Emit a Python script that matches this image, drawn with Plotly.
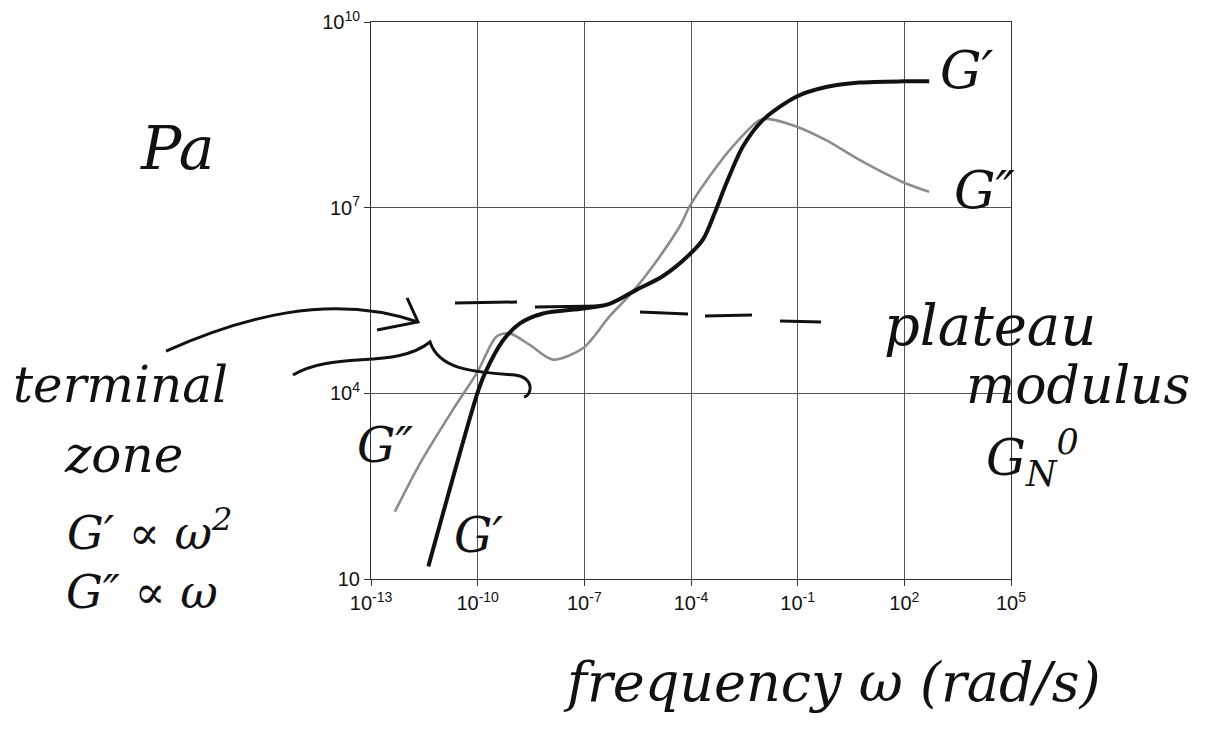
import plotly.graph_objects as go

# ---- data ----
gp_freq = [4.1e-12, 9.8e-11, 1.6e-10, 5.2e-10, 1.55e-9, 6.9e-9, 9.3e-8, 5.1e-7, 2.9e-6,
           1.6e-5, 9.1e-5, 2.2e-4, 4.6e-4, 9.8e-4, 2.9e-3, 1.05e-2, 9.1e-2, 0.63, 5.5, 89, 500]
gp_mod = [16, 1.0e4, 2.1e4, 7.2e4, 1.35e5, 1.95e5, 2.35e5, 2.8e5, 4.7e5,
          7.8e5, 1.75e6, 3.1e6, 8.1e6, 2.45e7, 9.8e7, 2.6e8, 6.2e8, 8.9e8, 1.05e9, 1.1e9, 1.1e9]

gpp_freq = [4.7e-13, 2.4e-12, 2.0e-11, 9.8e-11, 3.4e-10, 7.9e-10, 3.0e-9, 1.3e-8, 9.3e-8,
            5.1e-7, 2.3e-6, 1.3e-5, 5.4e-5, 9.1e-5, 3.3e-4, 1.5e-3, 8.5e-3, 1.6e-2, 9.1e-2,
            0.63, 5.5, 89, 500]
gpp_mod = [123, 740, 5.4e3, 2.2e4, 8.3e4, 9.3e4, 6.0e4, 3.5e4, 5.4e4,
           1.75e5, 4.4e5, 1.6e6, 5.6e6, 1.05e7, 3.2e7, 9.8e7, 2.6e8, 2.7e8, 2.05e8,
           1.23e8, 5.9e7, 2.6e7, 1.8e7]

x_tickvals = [1e-13, 1e-10, 1e-7, 1e-4, 1e-1, 1e2, 1e5]
x_ticktext = ["10<sup>-13</sup>", "10<sup>-10</sup>", "10<sup>-7</sup>", "10<sup>-4</sup>",
              "10<sup>-1</sup>", "10<sup>2</sup>", "10<sup>5</sup>"]
y_tickvals = [1e1, 1e4, 1e7, 1e10]
y_ticktext = ["10", "10<sup>4</sup>", "10<sup>7</sup>", "10<sup>10</sup>"]

# ---- layout geometry (screen pixels; page body adds an 8px margin) ----
OFF = 8
W, H = 1213 - 2 * OFF, 733 - 2 * OFF
L, R, T, B = 371, 1011, 22, 579


def px(x, y):
    return (x - L) / (R - L), (B - y) / (B - T)


def path(cmds):
    out = []
    for c in cmds:
        if isinstance(c, str):
            out.append(c)
        else:
            a, b = px(*c)
            out.append(f"{a:.4f},{b:.4f}")
    return " ".join(out)


fig = go.Figure()
fig.add_trace(go.Scatter(x=gpp_freq, y=gpp_mod, mode="lines",
                         line=dict(color="#8c8c8c", width=2.6, shape="spline", smoothing=0.8),
                         showlegend=False, hoverinfo="skip"))
fig.add_trace(go.Scatter(x=gp_freq, y=gp_mod, mode="lines",
                         line=dict(color="#111111", width=4, shape="spline", smoothing=0.8),
                         showlegend=False, hoverinfo="skip"))

shapes = []
ink = dict(color="#111111", width=3)
# hand-drawn plateau dashes
for (x0, y0, x1, y1) in [(455, 303, 517, 302), (535, 307, 600, 306), (640, 312, 688, 314),
                         (705, 316, 752, 315), (780, 321, 821, 322)]:
    a0, b0 = px(x0, y0)
    a1, b1 = px(x1, y1)
    shapes.append(dict(type="line", xref="paper", yref="paper", x0=a0, y0=b0, x1=a1, y1=b1,
                       line=ink))
# arrow
shapes.append(dict(type="path", xref="paper", yref="paper",
                   path=path(["M", (166, 351), "C", (240, 318), (330, 292), (418, 322)]),
                   line=ink))
shapes.append(dict(type="path", xref="paper", yref="paper",
                   path=path(["M", (407, 298), "L", (418, 322), "L", (377, 330)]),
                   line=ink))
# brace
shapes.append(dict(type="path", xref="paper", yref="paper",
                   path=path(["M", (293, 375), "C", (335, 350), (395, 370), (430, 342),
                              "C", (440, 372), (480, 372), (515, 375),
                              "C", (535, 378), (532, 395), (524, 397)]),
                   line=ink))

hand = "DejaVu Serif"


def note(text, x, y, size):
    a, b = px(x, y)
    return dict(text=text, xref="paper", yref="paper", x=a, y=b,
                xanchor="center", yanchor="middle", showarrow=False,
                font=dict(family=hand, size=size, color="#111111", style="italic"))


annotations = [
    note("Pa", 177, 148, 60),
    note("G′", 967, 70, 52),
    note("G″", 985, 190, 52),
    note("plateau", 990, 326, 56),
    note("modulus", 1078, 385, 52),
    note("G<sub>N</sub><sup>0</sup>", 1032, 458, 50),
    note("terminal", 120, 385, 50),
    note("zone", 123, 455, 50),
    note("G′ ∝ ω<sup>2</sup>", 150, 530, 46),
    note("G″ ∝ ω", 142, 592, 46),
    note("G″", 385, 445, 48),
    note("G′", 478, 535, 48),
    note("frequency ω (rad/s)", 832, 682, 54),
]

axis_font = dict(family="Liberation Sans", size=20, color="#111111")
fig.update_layout(
    width=W, height=H,
    margin=dict(l=L - OFF, r=W - (R - OFF), t=T - OFF, b=H - (B - OFF), pad=0,
                autoexpand=False),
    paper_bgcolor="white", plot_bgcolor="white",
    shapes=shapes, annotations=annotations,
    xaxis=dict(type="log", range=[-13, 5], tickvals=x_tickvals, ticktext=x_ticktext,
               showgrid=True, gridcolor="#555555", gridwidth=1, automargin=False,
               showline=True, linecolor="#333333", linewidth=1, mirror=True,
               ticks="outside", ticklen=6, tickcolor="#333333", tickfont=axis_font,
               ticklabeloverflow="allow", zeroline=False),
    yaxis=dict(type="log", range=[1, 10], tickvals=y_tickvals, ticktext=y_ticktext,
               showgrid=True, gridcolor="#555555", gridwidth=1, automargin=False,
               showline=True, linecolor="#333333", linewidth=1, mirror=True,
               ticks="outside", ticklen=6, tickcolor="#333333", tickfont=axis_font,
               ticklabeloverflow="allow", zeroline=False),
)

fig.write_html("out.html")
